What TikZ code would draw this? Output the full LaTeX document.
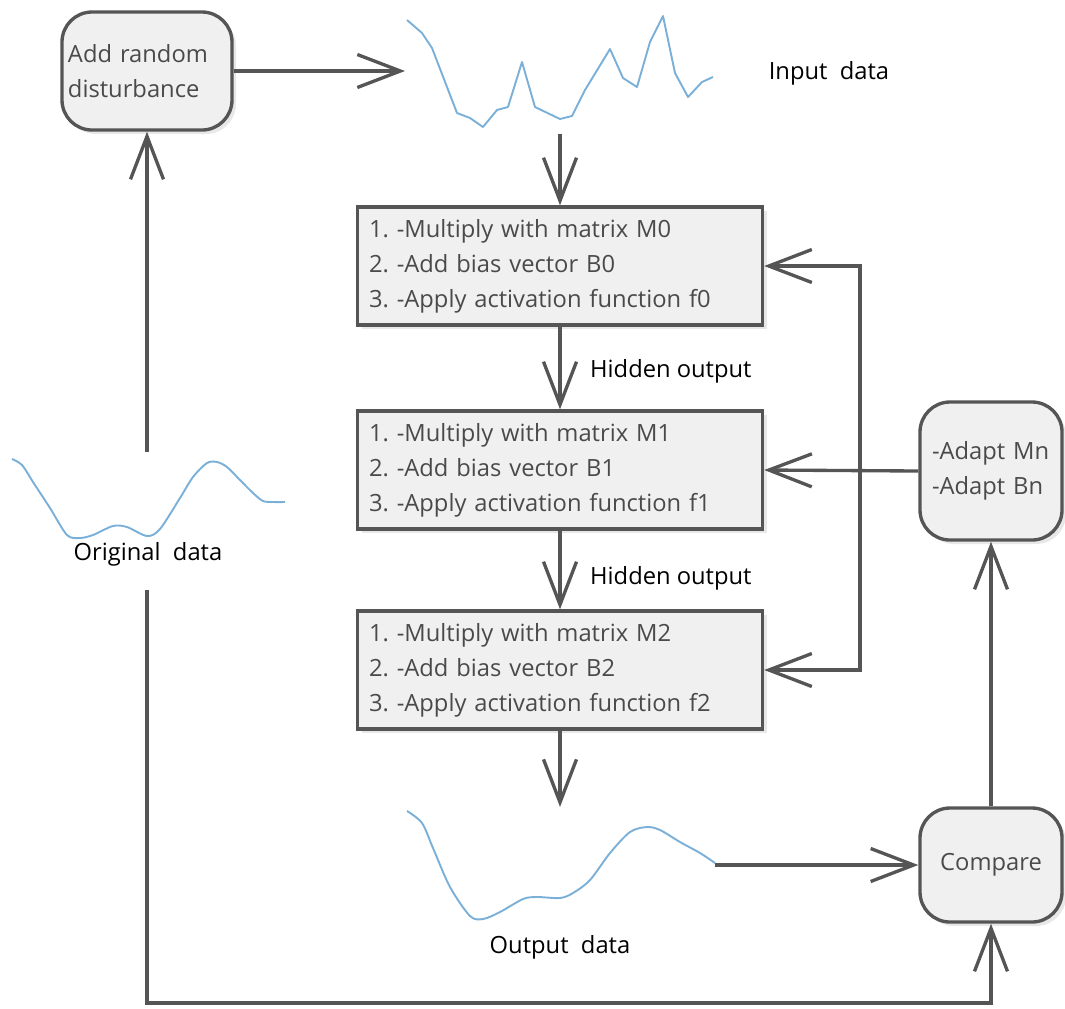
\documentclass[tikz,border=0pt]{standalone}
\usepackage{fontspec}
\setmainfont{Open Sans}
\usepackage{tikz}
\usetikzlibrary{arrows.meta,shadows,positioning}

\definecolor{linegray}{HTML}{555555}
\definecolor{boxgray}{HTML}{F0F0F0}
\definecolor{textgray}{HTML}{4A4A4A}
\definecolor{curveblue}{HTML}{7AAFD8}

\tikzset{
  basebox/.style={draw=linegray, line width=1.9pt, fill=boxgray, text=textgray,
    font=\fontsize{13.5}{19.9}\selectfont,
    drop shadow={shadow xshift=0.8mm, shadow yshift=-0.8mm, opacity=0.18}},
  rbox/.style={basebox, rounded corners=6mm},
  stepbox/.style={basebox, minimum width=81mm, minimum height=23.6mm,
    text width=76.4mm, align=left, inner sep=0pt},
  arr/.style={draw=linegray, line width=1.9pt,
    -{Straight Barb[length=8.6mm,width=6.6mm]}},
  sig/.style={curveblue, line width=0.38mm, line join=round},
  lbl/.style={font=\fontsize{13.5}{16}\selectfont, text=black}
}

\begin{document}
\begin{tikzpicture}[x=0.2mm, y=-0.2mm]
  \useasboundingbox (0,0) rectangle (1065,1008);

  % boxes
  \node[rbox, minimum width=34mm, minimum height=23.6mm, text width=31.6mm,
        align=left, inner sep=0pt] (add) at (147,71) {Add random\\disturbance};
  \node[stepbox] (box0) at (560,266) {1.\ -Multiply with matrix M0\\2.\ -Add bias vector B0\\3.\ -Apply activation function f0};
  \node[stepbox] (box1) at (560,470) {1.\ -Multiply with matrix M1\\2.\ -Add bias vector B1\\3.\ -Apply activation function f1};
  \node[stepbox] (box2) at (560,670) {1.\ -Multiply with matrix M2\\2.\ -Add bias vector B2\\3.\ -Apply activation function f2};
  \node[rbox, minimum width=28.4mm, minimum height=27.6mm, text width=23.6mm,
        align=left, inner sep=0pt] (adapt) at (991,471) {-Adapt Mn\\-Adapt Bn};
  \node[rbox, minimum width=28.4mm, minimum height=22.8mm] (compare) at (991,865) {Compare};

  % signals
  \draw[sig] plot coordinates {(407,20) (422,33) (432,48) (457,113) (470,118) (483,127)
    (497,110) (508,107) (522,62) (535,107) (560,119) (572,116) (585,90) (610,49)
    (623,78) (637,87) (650,42) (663,16) (675,73) (688,97) (702,82) (713,77)};
  \draw[sig] plot[smooth] coordinates {(12,459) (22,465) (33,482) (50,508) (67,535)
    (80,538) (93,535) (113,526) (127,527) (147,536) (160,529) (180,498) (193,477)
    (207,463) (217,462) (227,467) (240,480) (253,493) (263,501) (273,502) (285,502)};
  \draw[sig] plot[smooth] coordinates {(407,811) (422,823) (433,848) (450,887) (470,916)
    (483,919) (500,912) (523,899) (537,897) (560,898) (573,893) (590,880) (610,853)
    (630,832) (647,827) (660,830) (680,842) (700,853) (715,863)};

  % labels
  \node[lbl] (inlbl) at (829,73) {Input\ \ data};
  \node[lbl] (orilbl) at (148,554) {Original\ \ data};
  \node[lbl] (outlbl) at (560,947) {Output\ \ data};
  \node[lbl, anchor=west] (hid0) at (584,371) {Hidden output};
  \node[lbl, anchor=west] (hid1) at (584,578) {Hidden output};

  \coordinate (inL) at (405,71);
  \coordinate (inB) at (560,134);
  \coordinate (outT) at (560,807);
  \coordinate (outR) at (715,865);
  \coordinate (oriT) at (147,452);
  \coordinate (oriB) at (147,590);
  \coordinate (bot) at (147,1003);
  \coordinate (fb) at (860,470);

  % connectors
  \draw[arr] (add.east) -- (inL);
  \draw[arr] (inB) -- (box0.north);
  \draw[arr] (box0.south) -- (box1.north);
  \draw[arr] (box1.south) -- (box2.north);
  \draw[arr] (box2.south) -- (outT);
  \draw[arr] (outR) -- (compare.west);
  \draw[arr] (compare.north) -- (adapt.south);
  \draw[arr] (adapt.west) -- (box1.east);
  \draw[arr] (fb) |- (box0.east);
  \draw[arr] (fb) |- (box2.east);
  \draw[arr] (oriT) -- (add.south);
  \draw[arr] (oriB) -- (bot) -| (compare.south);
\end{tikzpicture}
\end{document}
